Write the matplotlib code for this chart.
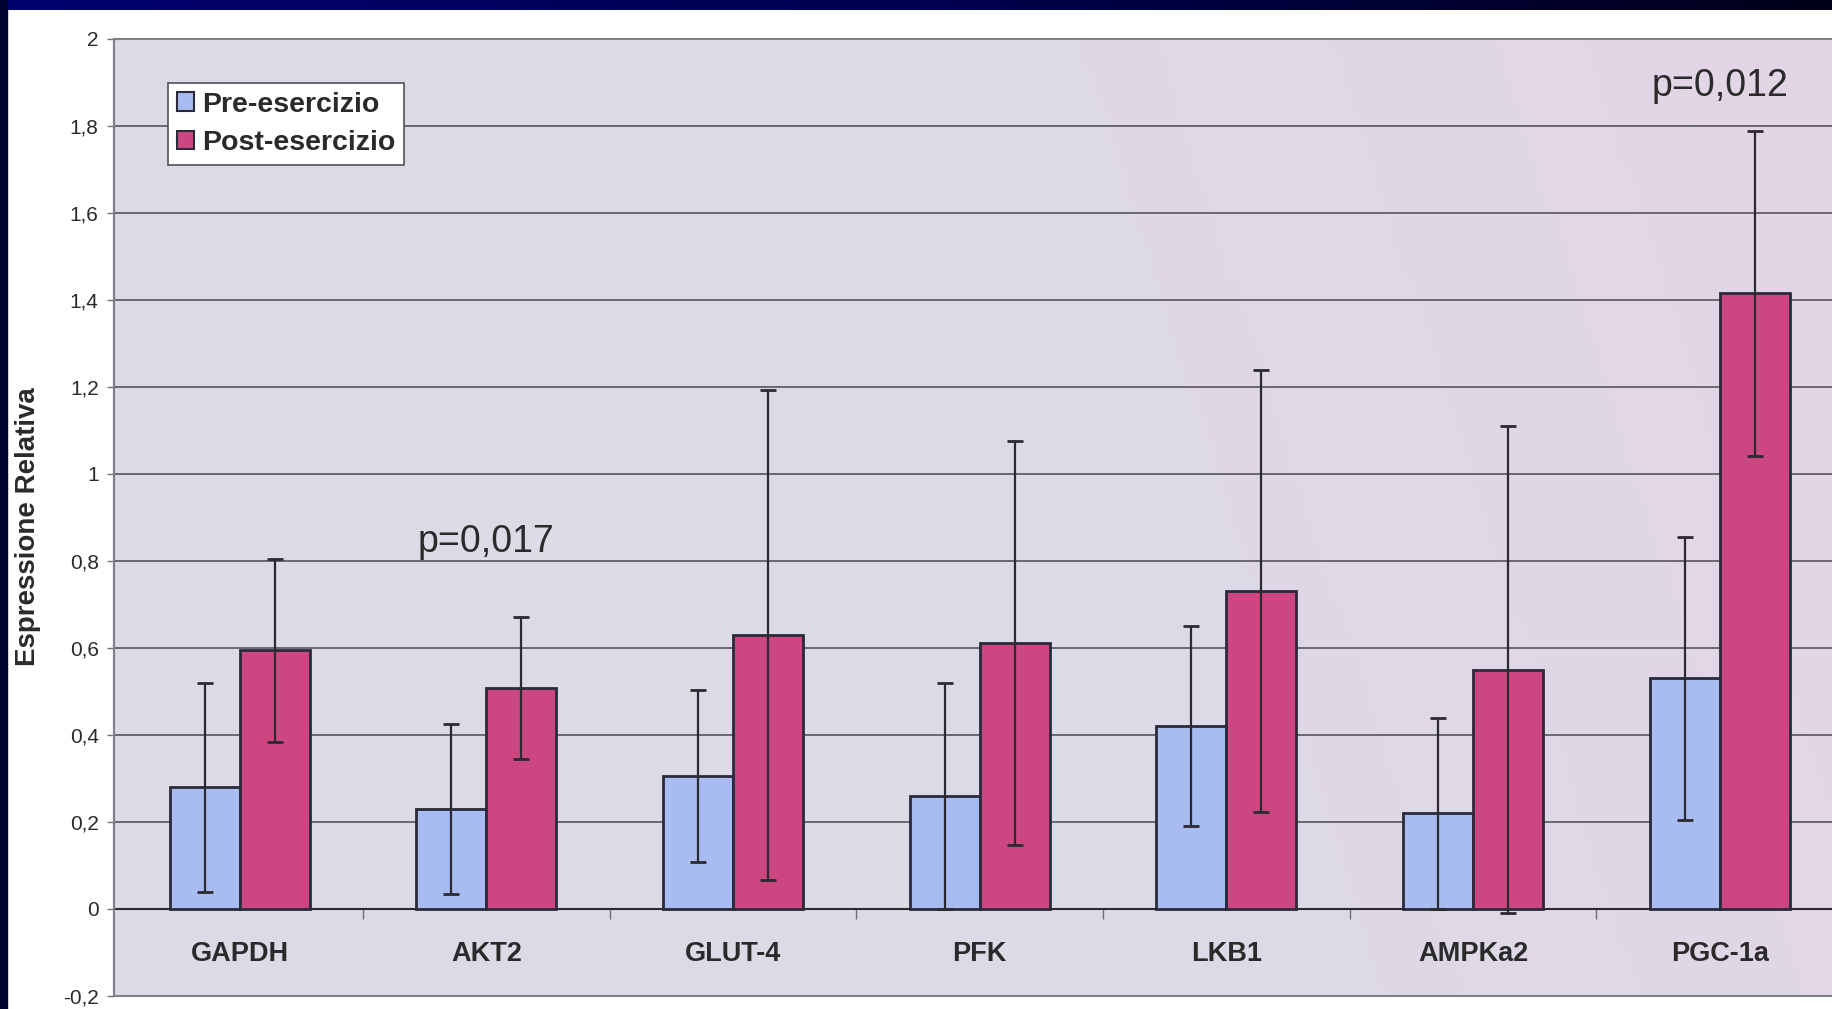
import matplotlib
matplotlib.use("Agg")
import matplotlib.pyplot as plt
import numpy as np
from matplotlib.patches import Rectangle, Patch
from matplotlib.colors import LinearSegmentedColormap

plt.rcParams['font.family'] = ['Liberation Sans', 'DejaVu Sans']

# geni analizzati e espressione relativa (media +/- DS)
geni = ['GAPDH', 'AKT2', 'GLUT-4', 'PFK', 'LKB1', 'AMPKa2', 'PGC-1a']
pre = [0.28, 0.23, 0.305, 0.26, 0.42, 0.22, 0.53]
pre_err = [0.24, 0.195, 0.198, 0.26, 0.23, 0.22, 0.325]
post = [0.595, 0.508, 0.63, 0.612, 0.73, 0.55, 1.415]
post_err = [0.21, 0.163, 0.563, 0.465, 0.508, 0.56, 0.373]

# p-value sopra i geni significativi
p_geni = ['AKT2', 'PGC-1a']
p_testo = ['p=0,017', 'p=0,012']
p_y = [0.82, 1.87]

yticks = [-0.2, 0, 0.2, 0.4, 0.6, 0.8, 1.0, 1.2, 1.4, 1.6, 1.8, 2.0]

W, H = 1833, 1009
fig = plt.figure(figsize=(W/100, H/100), dpi=100)
fig.patch.set_facecolor('white')

# bordo blu della slide (alto e sinistra)
bg = fig.add_axes([0, 0, 1, 1], zorder=-10)
bg.set_xlim(0, W); bg.set_ylim(H, 0); bg.axis('off')
navy = LinearSegmentedColormap.from_list('navy', ['#00006e', '#000050', '#00001a'])
grad = np.linspace(0, 1, 256).reshape(1, -1)
bg.imshow(grad, cmap=navy, extent=[0, W, 10, 0], aspect='auto')
bg.add_patch(Rectangle((0, 0), 7, H, color='#02022e'))

# area del grafico
ax = fig.add_axes([114/W, 1 - 996/H, 1729/W, 957/H])
ax.set_xlim(-0.51, 6.5)
ax.set_ylim(-0.2, 2.0)

# sfondo lilla-grigio leggermente sfumato
sfondo = LinearSegmentedColormap.from_list('sf', ['#dbdae5', '#dddae6', '#e3d6e6'])
xx = np.linspace(0, 1, 200)
yy = np.linspace(0, 1, 100)
img = xx[None, :] * 0.85 + yy[:, None] * 0.15
ax.imshow(img, cmap=sfondo, extent=[0, 1, 0, 1], transform=ax.transAxes,
          aspect='auto', zorder=0, origin='lower')

x = np.arange(len(geni))
w = 0.284
ax.bar(x - w/2, pre, w, color='#a9bcf1', edgecolor='#2a2a3a', linewidth=2,
       label='Pre-esercizio', zorder=3)
ax.bar(x + w/2, post, w, color='#cc4782', edgecolor='#2a2a3a', linewidth=2,
       label='Post-esercizio', zorder=3)
ax.errorbar(x - w/2, pre, yerr=pre_err, fmt='none', ecolor='#2a2a30',
            elinewidth=1.6, capsize=5.5, capthick=2, zorder=4)
ax.errorbar(x + w/2, post, yerr=post_err, fmt='none', ecolor='#2a2a30',
            elinewidth=1.6, capsize=5.5, capthick=2, zorder=4)

# griglia orizzontale
ax.set_yticks(yticks)
ax.set_yticklabels([('%g' % v).replace('.', ',') for v in yticks])
ax.grid(axis='y', color='#55555f', linewidth=1.2, zorder=1)
ax.set_axisbelow(True)

# asse delle categorie a y=0 con tacche fra i gruppi
for s in ['top', 'right']:
    ax.spines[s].set_visible(False)
ax.spines['bottom'].set_position(('data', 0))
ax.spines['bottom'].set_color('#2a2a30')
ax.spines['bottom'].set_linewidth(1.5)
ax.spines['left'].set_color('#707078')
ax.spines['left'].set_linewidth(1.5)
ax.add_patch(Rectangle((0, 0), 1, 1, transform=ax.transAxes, fill=False,
                       edgecolor='#808088', linewidth=1.5, zorder=5, clip_on=False))

ax.set_xticks(x)
ax.set_xticklabels(geni, fontsize=19.5, fontweight='bold', color='#2a2a2a')
ax.set_xticks(x[:-1] + 0.5, minor=True)
ax.tick_params(axis='x', which='major', length=0, pad=23)
ax.tick_params(axis='x', which='minor', length=7, width=1, color='#707078',
               direction='out')
ax.tick_params(axis='y', length=5, width=1, color='#707078', pad=6,
               labelsize=15, labelcolor='#2a2a2a')

ax.set_ylabel('Espressione Relativa', fontsize=20, fontweight='bold',
              color='#2a2a2a')
ax.yaxis.set_label_coords(-0.042, 0.49)

for g, t, yv in zip(p_geni, p_testo, p_y):
    ax.text(geni.index(g), yv, t, ha='center', va='baseline', fontsize=27,
            color='#2a2a2a', zorder=6)

leg = ax.legend(handles=[Patch(facecolor='#a9bcf1', edgecolor='#2a2a3a', linewidth=1.5, label='Pre-esercizio'),
                         Patch(facecolor='#cc4782', edgecolor='#2a2a3a', linewidth=1.5, label='Post-esercizio')],
                loc='upper left', bbox_to_anchor=(168/W, 1 - 83/H),
                bbox_transform=fig.transFigure, fancybox=False, framealpha=1,
                edgecolor='#505058', prop={'size': 20.5, 'weight': 'bold'},
                handlelength=0.6, handleheight=0.6, handletextpad=0.3,
                labelspacing=0.45, borderpad=0.3, borderaxespad=0)
leg.get_frame().set_linewidth(1.2)
for t in leg.get_texts():
    t.set_color('#2a2a2a')

fig.savefig('out.png', dpi=100)
